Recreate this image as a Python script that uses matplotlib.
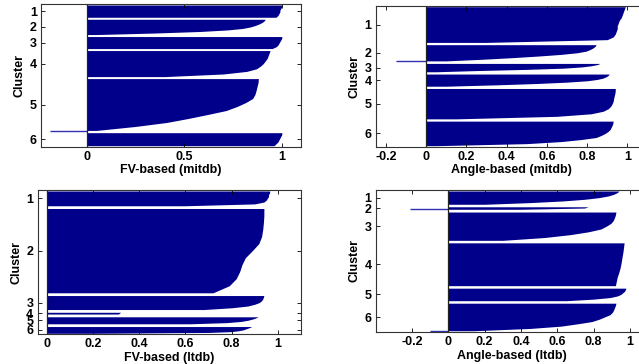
import numpy as np
import matplotlib.pyplot as plt

plt.rcParams['font.family'] = 'Liberation Sans'
plt.rcParams['font.weight'] = 'bold'
plt.rcParams['axes.labelweight'] = 'bold'
plt.rcParams['font.size'] = 9

clusters = ['1', '2', '3', '4', '5', '6']

# ---- FV-based (mitdb) ----
fv_mit_sizes = [49, 61, 48, 104, 208, 52]
fv_mit_sil = [
    [1.0, 1.0, 0.995, 0.99, 0.99, 0.985, 0.98, 0.97],
    [0.915, 0.91, 0.9, 0.885, 0.865, 0.84, 0.8, 0.72, 0.58, 0.35, 0.05],
    [1.0, 1.0, 0.995, 0.99, 0.985, 0.98, 0.97, 0.95],
    [0.94, 0.935, 0.93, 0.925, 0.915, 0.905, 0.89, 0.87, 0.82, 0.7, 0.4],
    [0.88, 0.878, 0.873, 0.868, 0.862, 0.85, 0.815, 0.77, 0.715, 0.62, 0.52, 0.41, 0.25, 0.05],
    [1.0, 1.0, 0.995, 0.99, 0.985, 0.98, 0.97, 0.96],
]
fv_mit_neg = [[], [], [], [], [-0.19], []]

# ---- Angle-based (mitdb) ----
ang_mit_sizes = [141, 65, 33, 48, 120, 97]
ang_mit_sil = [
    [0.99, 0.985, 0.98, 0.975, 0.97, 0.96, 0.955, 0.95, 0.95, 0.945, 0.94, 0.93, 0.9, 0.3],
    [0.845, 0.84, 0.83, 0.815, 0.795, 0.75, 0.67, 0.56, 0.43, 0.28, 0.1],
    [0.865, 0.85, 0.82, 0.77, 0.68, 0.5, 0.25, 0.05],
    [0.91, 0.905, 0.895, 0.88, 0.85, 0.8, 0.7, 0.55, 0.35, 0.1],
    [0.94, 0.94, 0.938, 0.935, 0.932, 0.93, 0.925, 0.918, 0.905, 0.88, 0.82, 0.65, 0.15],
    [0.93, 0.928, 0.925, 0.92, 0.915, 0.905, 0.89, 0.87, 0.845, 0.77, 0.67, 0.5, 0.05],
]
ang_mit_neg = [[], [-0.15], [], [], [], []]

# ---- FV-based (ltdb) ----
fv_lt_sizes = [59, 337, 56, 7, 28, 27]
fv_lt_sil = [
    [0.965, 0.965, 0.96, 0.96, 0.955, 0.95, 0.94, 0.9, 0.6],
    [0.94, 0.94, 0.938, 0.935, 0.93, 0.918, 0.89, 0.86, 0.845, 0.835, 0.82, 0.79, 0.72],
    [0.94, 0.938, 0.935, 0.93, 0.92, 0.9, 0.87, 0.8, 0.68],
    [0.32, 0.31],
    [0.915, 0.905, 0.89, 0.87, 0.84, 0.78, 0.62],
    [0.887, 0.88, 0.87, 0.86, 0.85, 0.83, 0.8, 0.7, 0.2],
]
fv_lt_neg = [[], [], [], [], [], []]

# ---- Angle-based (ltdb) ----
ang_lt_sizes = [53, 11, 113, 171, 50, 111]
ang_lt_sil = [
    [0.94, 0.93, 0.91, 0.88, 0.83, 0.75, 0.63, 0.45, 0.2],
    [0.77, 0.75, 0.4],
    [0.923, 0.92, 0.915, 0.908, 0.895, 0.87, 0.84, 0.77, 0.67, 0.53, 0.3],
    [0.968, 0.965, 0.962, 0.958, 0.954, 0.95, 0.945, 0.938, 0.93, 0.925, 0.92],
    [0.978, 0.975, 0.97, 0.96, 0.95, 0.93, 0.89, 0.8, 0.65],
    [0.923, 0.92, 0.915, 0.91, 0.903, 0.89, 0.86, 0.83, 0.79, 0.71, 0.62, 0.45, 0.14],
]
ang_lt_neg = [[], [-0.21], [], [], [], [-0.1]]

NAVY = '#00008b'
W, H = 639, 364


def silhouette(rect, sizes, sil, neg, gap, xlim, xticks, xticklabels, xlabel):
    # rect in pixels: left, top, pixels per unit, bottom
    left, top, scale, bottom = rect
    width = (xlim[1] - xlim[0]) * scale
    ax = fig.add_axes([left / W, 1 - bottom / H, width / W, (bottom - top) / H])
    margin = 4
    y = margin
    centers = []
    for n, vals, nv in zip(sizes, sil, neg):
        npos = n - len(nv)
        yy = np.linspace(y, y + npos, len(vals))
        ax.fill_betweenx(yy, 0, vals, color=NAVY, lw=0)
        for k, v in enumerate(nv):
            ax.hlines(y + npos + k + 0.5, v, 0, color='#3030b0', lw=1.0)
        centers.append(y + n / 2)
        y += n + gap
    ax.set_ylim(y - gap + margin, 0)
    ax.set_xlim(*xlim)
    ax.axvline(0, color='#222222', lw=0.9)
    ax.set_yticks(centers, clusters)
    ax.set_xticks(xticks, xticklabels)
    ax.tick_params(direction='in', top=True, right=True, length=3, width=0.6,
                   labelsize=9, pad=3)
    for s in ax.spines.values():
        s.set_linewidth(0.8)
        s.set_color('#333333')
    ax.set_xlabel(xlabel, labelpad=1)
    ax.set_ylabel('Cluster', labelpad=3)
    return ax


fig = plt.figure(figsize=(W / 100, H / 100), dpi=100)

silhouette((41, 4, 195, 146.7), fv_mit_sizes, fv_mit_sil, fv_mit_neg, 8,
           (-0.235, 1.1), [0, 0.5, 1], ['0', '0.5', '1'], 'FV-based (mitdb)')
silhouette((375.7, 5.7, 201.3, 146.7), ang_mit_sizes, ang_mit_sil, ang_mit_neg, 9,
           (-0.25, 1.1), [-0.2, 0, 0.2, 0.4, 0.6, 0.8, 1],
           ['-0.2', '0', '0.2', '0.4', '0.6', '0.8', '1'], 'Angle-based (mitdb)')
silhouette((37.5, 190, 231, 334.3), fv_lt_sizes, fv_lt_sil, fv_lt_neg, 11,
           (-0.04, 1.1), [0, 0.2, 0.4, 0.6, 0.8, 1],
           ['0', '0.2', '0.4', '0.6', '0.8', '1'], 'FV-based (ltdb)')
silhouette((375.7, 190, 181.6, 332), ang_lt_sizes, ang_lt_sil, ang_lt_neg, 10,
           (-0.4, 1.1), [-0.2, 0, 0.2, 0.4, 0.6, 0.8, 1],
           ['-0.2', '0', '0.2', '0.4', '0.6', '0.8', '1'], 'Angle-based (ltdb)')

fig.savefig('out.png', dpi=100)
